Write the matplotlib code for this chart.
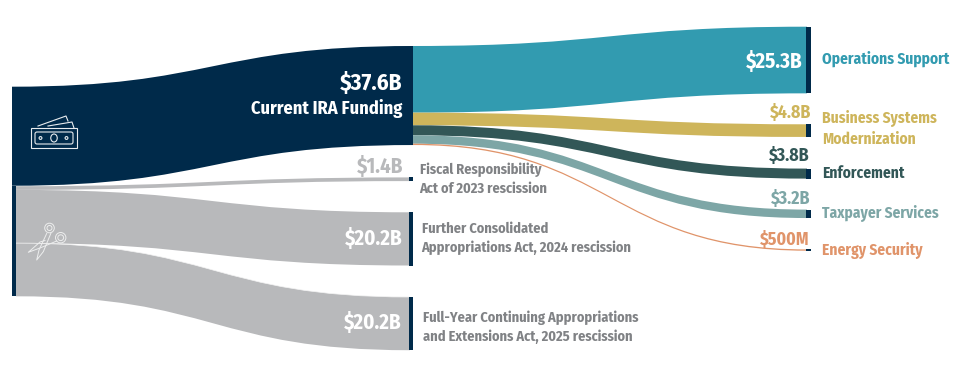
import matplotlib
matplotlib.use('Agg')
import matplotlib.pyplot as plt
from matplotlib.path import Path
from matplotlib.patches import PathPatch, Rectangle, Circle, Ellipse, FancyBboxPatch

# values in $B
funding_total = 37.6
uses = ['Operations Support', 'Business Systems\nModernization', 'Enforcement', 'Taxpayer Services', 'Energy Security']
use_values = [25.3, 4.8, 3.8, 3.2, 0.5]
use_value_labels = ['$25.3B', '$4.8B', '$3.8B', '$3.2B', '$500M']
cuts = ['Fiscal Responsibility\nAct of 2023 rescission',
        'Further Consolidated\nAppropriations Act, 2024 rescission',
        'Full-Year Continuing Appropriations\nand Extensions Act, 2025 rescission']
cut_values = [1.4, 20.2, 20.2]
cut_value_labels = ['$1.4B', '$20.2B', '$20.2B']

NAVY = '#002A4A'
GREY = '#B8B9BB'
TEXT_GREY = '#808285'
use_colors = ['#329BB0', '#CEB55B', '#325757', '#7DA6A6', '#E0946A']

PX = 2.634  # pixels per $B
plt.rcParams['font.family'] = ['Fira Sans Condensed', 'Roboto Condensed', 'Liberation Sans']

fig = plt.figure(figsize=(9.6, 3.82), dpi=100)
ax = fig.add_axes([0, 0, 1, 1])
ax.set_xlim(0, 960)
ax.set_ylim(382, 0)
ax.set_axis_off()


def ribbon(x0, x1, top0, top1, value, color):
    h = value * PX
    xm = (x0 + x1) / 2
    verts = [(x0, top0), (xm, top0), (xm, top1), (x1, top1),
             (x1, top1 + h), (xm, top1 + h), (xm, top0 + h), (x0, top0 + h), (x0, top0)]
    codes = [Path.MOVETO, Path.CURVE4, Path.CURVE4, Path.CURVE4,
             Path.LINETO, Path.CURVE4, Path.CURVE4, Path.CURVE4, Path.CLOSEPOLY]
    ax.add_patch(PathPatch(Path(verts, codes), facecolor=color, edgecolor='none', zorder=2))


def label(x, y, s, color, size=12, ha='left'):
    ax.text(x, y, s, color=color, fontsize=size, ha=ha, va='center',
            fontweight='bold', linespacing=1.4, zorder=5)


# main flow
ribbon(12, 413, 86.7, 46, funding_total, NAVY)

# spending flows, stacked from the top of the node
right_tops = [26.7, 124.3, 168.6, 209.6, 249.4]
y = 46
for v, c, t in zip(use_values, use_colors, right_tops):
    ribbon(413, 807, y, t, v, c)
    ax.add_patch(Rectangle((806, t), 4.5, v * PX, facecolor=NAVY, edgecolor='none', zorder=3))
    y += v * PX

# rescission flows
cut_tops = [177.4, 212.3, 297]
y = 186.2
for v, t in zip(cut_values, cut_tops):
    ribbon(16, 410, y, t, v, GREY)
    ax.add_patch(Rectangle((409, t), 4.2, v * PX, facecolor=NAVY, edgecolor='none', zorder=3))
    y += v * PX
ax.add_patch(Rectangle((12, 186), 4.2, sum(cut_values) * PX, facecolor=NAVY, edgecolor='none', zorder=3))

# pale seam between the two big rescission flows
seam_y = 186.2 + (cut_values[0] + cut_values[1]) * PX
seam = Path([(16, seam_y), (213, seam_y), (213, cut_tops[2]), (410, cut_tops[2])],
            [Path.MOVETO, Path.CURVE4, Path.CURVE4, Path.CURVE4])
ax.add_patch(PathPatch(seam, facecolor='none', edgecolor='#F4F4F4', linewidth=0.5, zorder=2))

# value labels
label(402, 83, f'${funding_total}B', 'white', 16.6, 'right')
label(402, 109, 'Current IRA Funding', 'white', 13.2, 'right')
for s, ypos, c, fs, xr in zip(use_value_labels, [61.7, 112.7, 156, 199, 240],
                              ['white'] + use_colors[1:], [15, 12.8, 12.8, 12.8, 12.8],
                              [803, 811.5, 810, 810, 810]):
    label(xr, ypos, s, c, fs, 'right')
for s, ypos, c, fs, xr in zip(cut_value_labels, [166.7, 238, 322.7], [GREY, 'white', 'white'],
                              [15, 15, 15], [403, 403, 402]):
    label(xr, ypos, s, c, fs, 'right')

# names
for s, ypos, c in zip(uses, [59, 128.5, 173, 213, 250.7], use_colors):
    label(822, ypos, s, c, 11.1)
for s, xl, ypos in zip(cuts, [419.5, 421.5, 423], [179.5, 238.5, 327.5]):
    label(xl, ypos, s, TEXT_GREY, 10.3)

# money icon
ic = dict(facecolor='none', edgecolor='#E8ECEF', linewidth=0.8, zorder=4)
ax.add_patch(Rectangle((31, 128), 46, 20, **ic))
ax.add_patch(FancyBboxPatch((35, 132), 38, 12, boxstyle='round,pad=0,rounding_size=2', **ic))
ax.add_patch(Ellipse((54, 138), 6.5, 8, **ic))
ax.add_patch(Circle((40.5, 138), 1.4, **ic))
ax.add_patch(Circle((66.5, 138), 1.4, **ic))
ax.plot([38, 66, 68], [126, 116, 121], color='#E8ECEF', lw=0.8, zorder=4)
ax.plot([48, 72, 74], [126, 122, 128], color='#E8ECEF', lw=0.8, zorder=4)

# scissors icon
sc = dict(facecolor='none', edgecolor='#EDEEEE', linewidth=0.7, zorder=4)
ax.add_patch(Circle((49.5, 228), 4.8, **sc))
ax.add_patch(Circle((49.5, 228), 2.5, **sc))
ax.add_patch(Circle((60.7, 237.7), 5.2, **sc))
ax.add_patch(Circle((60.7, 237.7), 2.9, **sc))
ax.plot([56.7, 40, 28.3, 40, 45], [241, 248, 252.3, 242, 240.5], color='#EDEEEE', lw=0.7, zorder=4)
ax.plot([51, 43.3, 36.7, 39, 46.7], [233, 251.7, 260, 250, 233.5], color='#EDEEEE', lw=0.7, zorder=4)

fig.savefig('out.png', dpi=100)
plt.close(fig)
